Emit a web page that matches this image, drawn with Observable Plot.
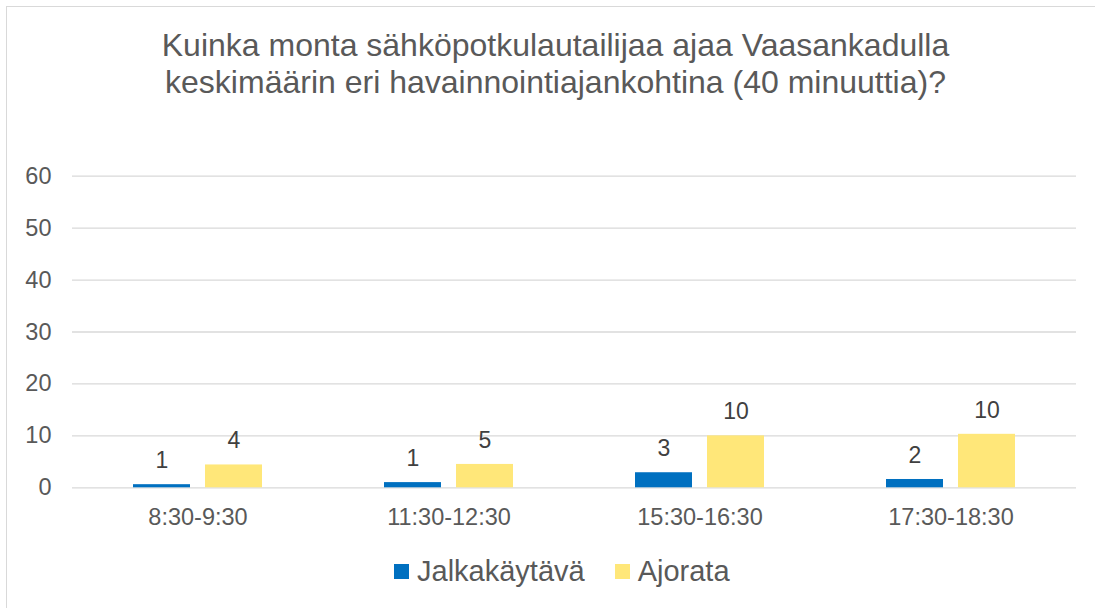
<!DOCTYPE html>
<html>
<head>
<meta charset="utf-8">
<script src="https://cdn.jsdelivr.net/npm/d3@7"></script>
<script src="https://cdn.jsdelivr.net/npm/@observablehq/plot@0.6"></script>
<style>
  html, body { margin: 0; padding: 0; background: #fff; width: 1095px; height: 608px; overflow: hidden; }
  body { font-family: "Liberation Sans", Arial, sans-serif; position: relative; }
  #frame { position: absolute; left: 6px; top: 6px; width: 1200px; height: 700px; border-left: 1.5px solid #d9d9d9; border-top: 1.5px solid #d9d9d9; box-sizing: border-box; }
  #title { position: absolute; left: 6px; width: 1099px; top: 27px; text-align: center; font-size: 32px; line-height: 37px; color: #595959; }
  #chart { position: absolute; left: 0; top: 140px; }
  #legend { position: absolute; left: 394px; top: 552px; display: flex; align-items: center; font-size: 29px; color: #595959; height: 38px; }
  .sw { width: 15px; height: 15px; display: inline-block; margin-right: 8px; }
  .item { display: flex; align-items: center; }
</style>
</head>
<body>
<div id="frame"></div>
<div id="title">Kuinka monta sähköpotkulautailijaa ajaa Vaasankadulla<br>keskimäärin eri havainnointiajankohtina (40 minuuttia)?</div>
<div id="chart"></div>
<div id="legend"></div>
<script>
const periods = ["8:30-9:30", "11:30-12:30", "15:30-16:30", "17:30-18:30"];
const seriesNames = ["Jalkakäytävä", "Ajorata"];
const jalkakaytava = [0.6, 1.0, 2.9, 1.6];
const ajorata = [4.4, 4.5, 10.0, 10.3];
const colors = ["#0070C0", "#FFE779"];
const yTicks = [0, 10, 20, 30, 40, 50, 60];

const data = [];
periods.forEach((p, i) => {
  data.push({period: p, series: seriesNames[0], value: jalkakaytava[i]});
  data.push({period: p, series: seriesNames[1], value: ajorata[i]});
});

const chart = Plot.plot({
  width: 1095,
  height: 400,
  marginLeft: 71,
  marginRight: 18,
  marginTop: 35.7,
  marginBottom: 52.7,
  style: {fontFamily: "Liberation Sans, Arial, sans-serif", background: "transparent"},
  fx: {domain: periods, padding: 0, label: null},
  x: {domain: seriesNames, paddingInner: 0.21, paddingOuter: 0.83, axis: null},
  y: {domain: [0, 60], ticks: yTicks, label: null},
  color: {domain: seriesNames, range: colors},
  marks: [
    Plot.ruleY(yTicks, {stroke: "#d9d9d9", strokeWidth: 1.3}),
    Plot.axisY({ticks: yTicks, tickSize: 0, tickPadding: 21, fontSize: 23.5, color: "#595959", label: null}),
    Plot.axisFx({anchor: "bottom", tickSize: 0, tickPadding: 21, fontSize: 23.5, color: "#595959", label: null}),
    Plot.barY(data, {fx: "period", x: "series", y: "value", fill: "series"}),
    Plot.text(data, {fx: "period", x: "series", y: "value", text: d => String(Math.round(d.value)), dy: -24, lineAnchor: "middle", fontSize: 23, fill: "#404040"})
  ]
});
document.getElementById("chart").appendChild(chart);

const legend = document.getElementById("legend");
seriesNames.forEach((s, i) => {
  const item = document.createElement("div");
  item.className = "item";
  if (i > 0) item.style.marginLeft = "30px";
  const sw = document.createElement("span");
  sw.className = "sw";
  sw.style.background = colors[i];
  const t = document.createElement("span");
  t.textContent = s;
  item.appendChild(sw);
  item.appendChild(t);
  legend.appendChild(item);
});
</script>
</body>
</html>
